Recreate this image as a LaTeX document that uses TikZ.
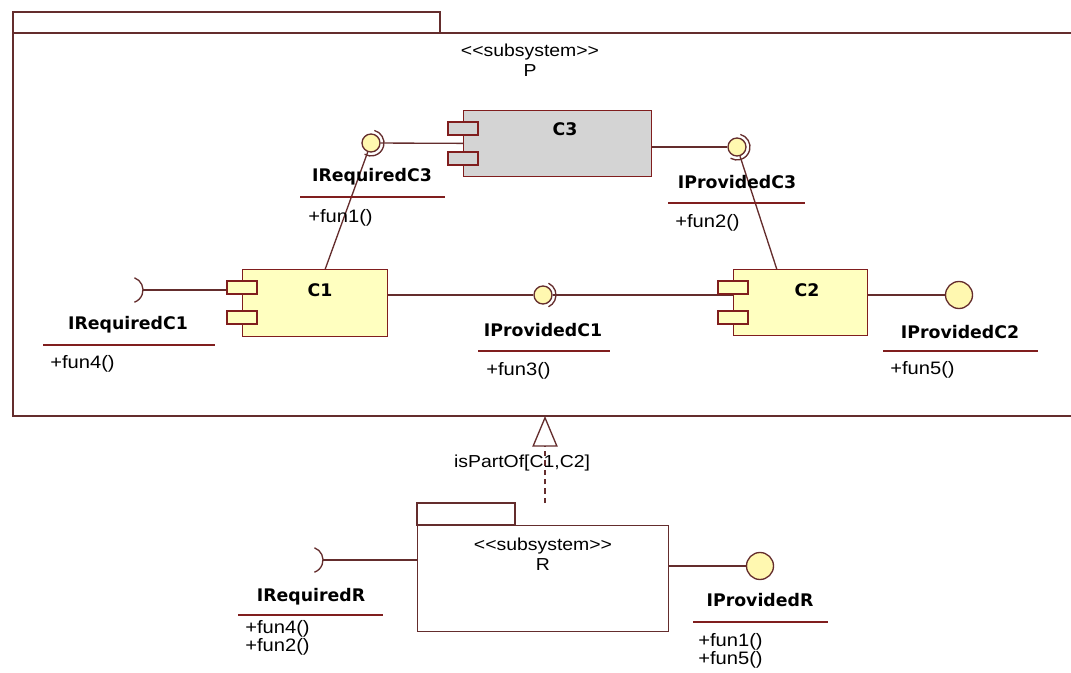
\documentclass[tikz,border=0pt]{standalone}
\usepackage{fontspec}
\setmainfont{Liberation Sans}
\newfontfamily\umlfont[FakeStretch=1.12]{Liberation Sans}
\newfontfamily\umlbold{DejaVu Sans}
\usepackage{tikz}
\usetikzlibrary{arrows.meta, positioning}

\definecolor{umlline}{RGB}{100,45,45}
\definecolor{umlred}{RGB}{128,30,30}
\definecolor{compyellow}{RGB}{255,255,192}
\definecolor{compgrey}{RGB}{212,212,212}
\definecolor{ballyellow}{RGB}{255,248,176}

\tikzset{
  pkg/.style={draw=umlline, line width=1.2pt},
  comp/.style={draw=umlred, fill=compyellow, line width=1.1pt, anchor=north west, inner sep=0pt},
  port/.style={draw=umlred, fill=compyellow, line width=1.1pt},
  wire/.style={draw=umlline, line width=1pt},
  ball/.style={circle, draw=umlline, fill=ballyellow, line width=1pt, inner sep=0pt, minimum size=13.5pt},
  bigball/.style={ball, minimum size=20.25pt},
  sockc/.style={circle, inner sep=0pt, minimum size=19.5pt},
  socket/.style={draw=umlline, line width=1pt},
  iname/.style={font=\umlbold\bfseries\fontsize{13}{15}\selectfont, inner sep=0pt},
  ops/.style={font=\umlfont\fontsize{13.5}{13.5}\selectfont, inner sep=0pt, anchor=west, align=left},
  stereo/.style={font=\umlfont\fontsize{13}{16}\selectfont, inner sep=0pt, align=center},
  uline/.style={draw=umlred, line width=1.1pt},
}

% two ports on the left side of a component
\newcommand{\compports}[2][compyellow]{%
  \draw[port, fill=#1] ([shift={(-15,12)}]#2.north west) rectangle ++(30,13);
  \draw[port, fill=#1] ([shift={(-15,42)}]#2.north west) rectangle ++(30,13);}
% socket arc round an interface
\newcommand{\sockarc}[3]{%
  \draw[socket] ([shift={(#2:13)}]#1.center) arc[start angle=#2, end angle=#3, radius=13];}

\begin{document}
\begin{tikzpicture}[x=0.75pt, y=-0.75pt]
  \useasboundingbox (0,0) rectangle (1071,673);

  % subsystem P
  \draw[pkg] (13,12) rectangle (440,33);
  \draw[pkg] (1071,33) -- (13,33) -- (13,416) -- (1071,416);
  \node[stereo] (stp) at (530,52) {<\kern0pt<subsystem>\kern0pt>};
  \node[stereo, below=3pt of stp] (np) {P};

  % components
  \node[comp, fill=compgrey, minimum width=141pt, minimum height=49.5pt] (c3) at (463,110) {};
  \node[comp, minimum width=108.75pt, minimum height=50.25pt] (c1) at (242,269) {};
  \node[comp, minimum width=100.5pt, minimum height=49.5pt] (c2) at (733,269) {};
  \node[iname] (lc3) at (565,129) {C3};
  \node[iname] (lc1) at (320,290) {C1};
  \node[iname] (lc2) at (807,290) {C2};

  % interfaces
  \node[ball] (rc3) at (371,143) {};
  \node[ball] (pc3) at (737,147) {};
  \node[ball] (pc1) at (543,295) {};
  \node[sockc] (rc1) at (130,290) {};
  \node[bigball] (pc2) at (959,295) {};

  % connectors
  \draw[wire] (rc3) -- (c3);
  \draw[wire] (rc3) -- ([shift={(10,0)}]c1.north);
  \draw[wire] (pc3 -| c3.east) -- (pc3);
  \draw[wire] (pc3) -- ([shift={(-24,0)}]c2.north);
  \draw[wire] (pc1 -| c1.east) -- (pc1);
  \draw[wire] (pc1) -- (pc1 -| c2.west);
  \draw[wire] (rc1.east) -- (rc1.east -| c1.west);
  \draw[wire] (pc2 -| c2.east) -- (pc2);

  \compports[compgrey]{c3}
  \compports{c1}
  \compports{c2}
  \sockarc{rc3}{-75}{120}
  \sockarc{pc3}{-75}{120}
  \sockarc{pc1}{-65}{65}
  \draw[socket] ([shift={(-70:13)}]rc1.center) arc[start angle=-70, end angle=70, radius=13];

  % interface classes
  \node[iname] (nrc3) at (372,177) {IRequiredC3};
  \draw[uline] (300,197) -- (445,197);
  \node[ops] (orc3) at (308,218) {+fun1()};

  \node[iname] (npc3) at (737,182) {IProvidedC3};
  \draw[uline] (668,203) -- (805,203);
  \node[ops] (opc3) at (675,223) {+fun2()};

  \node[iname] (nrc1) at (128,325) {IRequiredC1};
  \draw[uline] (43,345) -- (215,345);
  \node[ops] (orc1) at (50,364) {+fun4()};

  \node[iname] (npc1) at (543,330) {IProvidedC1};
  \draw[uline] (478,351) -- (610,351);
  \node[ops] (opc1) at (486,371) {+fun3()};

  \node[iname] (npc2) at (960,332) {IProvidedC2};
  \draw[uline] (883,351) -- (1038,351);
  \node[ops] (opc2) at (890,370) {+fun5()};

  % subsystem R
  \node[comp, draw=umlline, fill=white, minimum width=188.25pt, minimum height=79.5pt] (r) at (417,525) {};
  \draw[pkg] (r.north west) rectangle ++(98,-22);
  \node[stereo] (str) at (543,546) {<\kern0pt<subsystem>\kern0pt>};
  \node[stereo, below=3pt of str] (nr) {R};

  \node[sockc] (rr) at (310,560) {};
  \node[bigball] (pr) at (760,566) {};
  \draw[wire] (rr.east) -- (rr.east -| r.west);
  \draw[wire] (pr -| r.east) -- (pr);
  \draw[socket] ([shift={(-70:13)}]rr.center) arc[start angle=-70, end angle=70, radius=13];

  \node[iname] (nrr) at (311,597) {IRequiredR};
  \draw[uline] (238,615) -- (383,615);
  \node[ops] (orr) at (245,638) {+fun4()\\+fun2()};

  \node[iname] (npr) at (760,600) {IProvidedR};
  \draw[uline] (693,622) -- (828,622);
  \node[ops] (opr) at (698,651) {+fun1()\\+fun5()};

  % isPartOf dependency
  \coordinate (dep) at (545,503);
  \coordinate (pbot) at (545,416);
  \draw[wire, dashed, dash pattern=on 4pt off 3pt, -{Triangle[open, length=23pt, width=19pt]}] (dep) -- (pbot);
  \node[stereo] (lpart) at (522,463) {isPartOf[C1,C2]};
\end{tikzpicture}
\end{document}
